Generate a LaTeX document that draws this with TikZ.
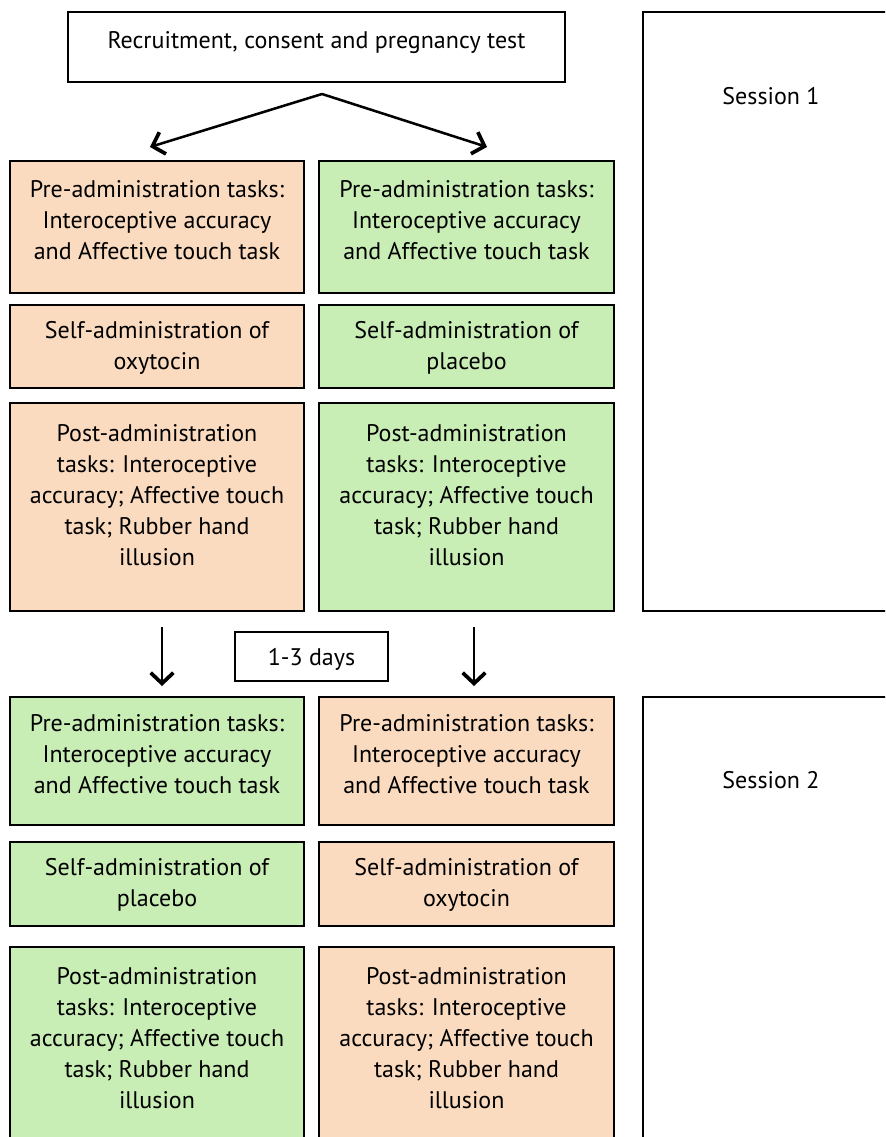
\documentclass[tikz,border=0pt]{standalone}
\usepackage{fontspec}
\setmainfont{PT Sans}
\usetikzlibrary{arrows.meta}
\definecolor{oxy}{RGB}{251,219,191}
\definecolor{pla}{RGB}{200,237,181}
\begin{document}
\begin{tikzpicture}[x=0.75pt,y=-0.75pt,
  box/.style={draw=black,line width=1.5pt},
  txt/.style={align=center,inner sep=0pt,font=\fontsize{18}{23.25}\selectfont},
  arr/.style={line width=1.9pt,-{Straight Barb[length=8pt,width=17pt,line width=2.8pt]}}]
\useasboundingbox (0,0) rectangle (885,1137);
\clip (0,0) rectangle (885,1137);
% top
\draw[box] (68,12) rectangle (565,82);
\node[txt] (top) at (316.5,43) {Recruitment, consent and pregnancy test};
\coordinate (split) at (322,94);
% session frames
\draw[box] (643,12) rectangle (900,611);
\node[txt] (s1) at (771,96) {Session 1};
\draw[box] (643,697) rectangle (900,1150);
\node[txt] (s2) at (771,780) {Session 2};
% session 1 left (oxytocin)
\draw[box,fill=oxy] (10,161) rectangle (304,293);
\node[txt] (a1) at (157,220) {Pre-administration tasks:\\Interoceptive accuracy\\and Affective touch task};
\draw[box,fill=oxy] (10,305) rectangle (304,388);
\node[txt] (a2) at (157,348) {Self-administration of\\oxytocin};
\draw[box,fill=oxy] (10,403) rectangle (304,611);
\node[txt] (a3) at (157,495) {Post-administration\\tasks: Interoceptive\\accuracy; Affective touch\\task; Rubber hand\\illusion};
% session 1 right (placebo)
\draw[box,fill=pla] (319,161) rectangle (614,293);
\node[txt] (b1) at (466.5,220) {Pre-administration tasks:\\Interoceptive accuracy\\and Affective touch task};
\draw[box,fill=pla] (319,305) rectangle (614,388);
\node[txt] (b2) at (466.5,348) {Self-administration of\\placebo};
\draw[box,fill=pla] (319,403) rectangle (614,611);
\node[txt] (b3) at (466.5,495) {Post-administration\\tasks: Interoceptive\\accuracy; Affective touch\\task; Rubber hand\\illusion};
% gap
\draw[box] (235,632) rectangle (388,681);
\node[txt] (days) at (311.5,659) {1-3 days};
% session 2 left (placebo)
\draw[box,fill=pla] (10,697) rectangle (304,825);
\node[txt] (c1) at (157,754) {Pre-administration tasks:\\Interoceptive accuracy\\and Affective touch task};
\draw[box,fill=pla] (10,842) rectangle (304,926);
\node[txt] (c2) at (157,885) {Self-administration of\\placebo};
\draw[box,fill=pla] (10,947) rectangle (304,1150);
\node[txt] (c3) at (157,1038) {Post-administration\\tasks: Interoceptive\\accuracy; Affective touch\\task; Rubber hand\\illusion};
% session 2 right (oxytocin)
\draw[box,fill=oxy] (319,697) rectangle (614,825);
\node[txt] (d1) at (466.5,754) {Pre-administration tasks:\\Interoceptive accuracy\\and Affective touch task};
\draw[box,fill=oxy] (319,842) rectangle (614,926);
\node[txt] (d2) at (466.5,885) {Self-administration of\\oxytocin};
\draw[box,fill=oxy] (319,947) rectangle (614,1150);
\node[txt] (d3) at (466.5,1038) {Post-administration\\tasks: Interoceptive\\accuracy; Affective touch\\task; Rubber hand\\illusion};
% arrows
\coordinate (tl) at (150,147);
\coordinate (tr) at (487,147);
\draw[arr] (split) -- (tl);
\draw[arr] (split) -- (tr);
\coordinate (l0) at (162,627);
\coordinate (l1) at (162,686);
\coordinate (r0) at (474,627);
\coordinate (r1) at (474,686);
\draw[arr] (l0) -- (l1);
\draw[arr] (r0) -- (r1);
\end{tikzpicture}
\end{document}
